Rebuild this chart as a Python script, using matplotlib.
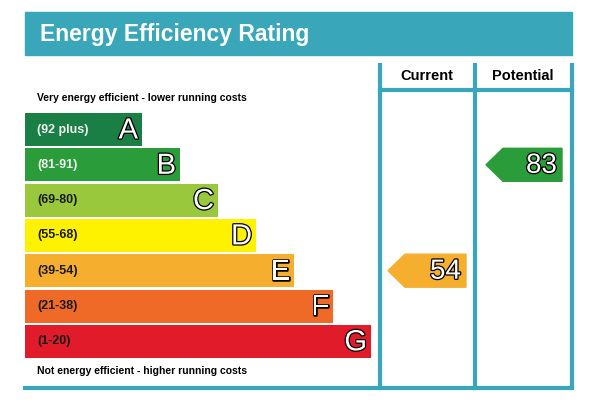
import matplotlib
matplotlib.use("Agg")
import matplotlib.pyplot as plt
from matplotlib.patches import Polygon, Rectangle
import matplotlib.patheffects as pe

plt.rcParams['font.family'] = ['Liberation Sans', 'DejaVu Sans']

letters = ["A", "B", "C", "D", "E", "F", "G"]
ranges = ["(92 plus)", "(81-91)", "(69-80)", "(55-68)", "(39-54)", "(21-38)", "(1-20)"]
lows = [92, 81, 69, 55, 39, 21, 1]
colors = ["#1a7f45", "#2a9d3a", "#99c83d", "#fff200", "#f5ae2e", "#ee6a26", "#e21b2a"]
bar_ends = [142, 180, 218, 256, 294, 333, 371]
current = 54
potential = 83

fig = plt.figure(figsize=(5.94, 4.03), dpi=100)
ax = fig.add_axes([0, 0, 1, 1])
ax.set_xlim(0, 594); ax.set_ylim(403, 0); ax.axis("off")
teal = "#3aa6b9"

ax.add_patch(Rectangle((25, 12), 547, 43, color=teal))
ax.text(40, 34, "Energy Efficiency Rating", color="white", fontsize=16.5, fontweight="bold", va="center")
for x in [380, 475, 572]:
    ax.plot([x, x], [65, 388], color=teal, lw=3)
ax.plot([380, 572], [90, 90], color=teal, lw=3)
ax.plot([25, 572], [388, 388], color=teal, lw=3)
ax.text(427, 76, "Current", fontsize=10.5, fontweight="bold", ha="center", va="center")
ax.text(523, 76, "Potential", fontsize=10.5, fontweight="bold", ha="center", va="center")
ax.text(37, 98, "Very energy efficient - lower running costs", fontsize=7.5, fontweight="bold", va="center")
ax.text(37, 371, "Not energy efficient - higher running costs", fontsize=7.5, fontweight="bold", va="center")

tops = [113 + i * 35.3 for i in range(7)]
h = 33
ax.barh([t + h / 2 for t in tops], [e - 25 for e in bar_ends], left=25, height=h, color=colors)
outline = [pe.withStroke(linewidth=1.8, foreground="black")]
for i in range(7):
    cy = tops[i] + h / 2
    ax.text(37, cy, ranges[i], fontsize=9, fontweight="bold", va="center",
            color="#f0f0f0" if i in (0, 1) else "#1a1a1a")
    ax.text(bar_ends[i] - 4, cy + 1, letters[i], fontsize=21, color="white", ha="right", va="center",
            path_effects=outline)

def band(v):
    for i, lo in enumerate(lows):
        if v >= lo:
            return i
    return 6

def arrow(v, x0, x1):
    i = band(v); t = tops[i]; cy = t + h / 2
    ax.add_patch(Polygon([(x0, cy), (x0 + 17, t), (x1, t), (x1, t + h), (x0 + 17, t + h)], color=colors[i]))
    ax.text(x1 - 5, cy + 1, str(v), fontsize=20, color="white", ha="right", va="center", path_effects=outline)

arrow(current, 388, 466)
arrow(potential, 486, 562)
fig.savefig("out.png", dpi=100)
